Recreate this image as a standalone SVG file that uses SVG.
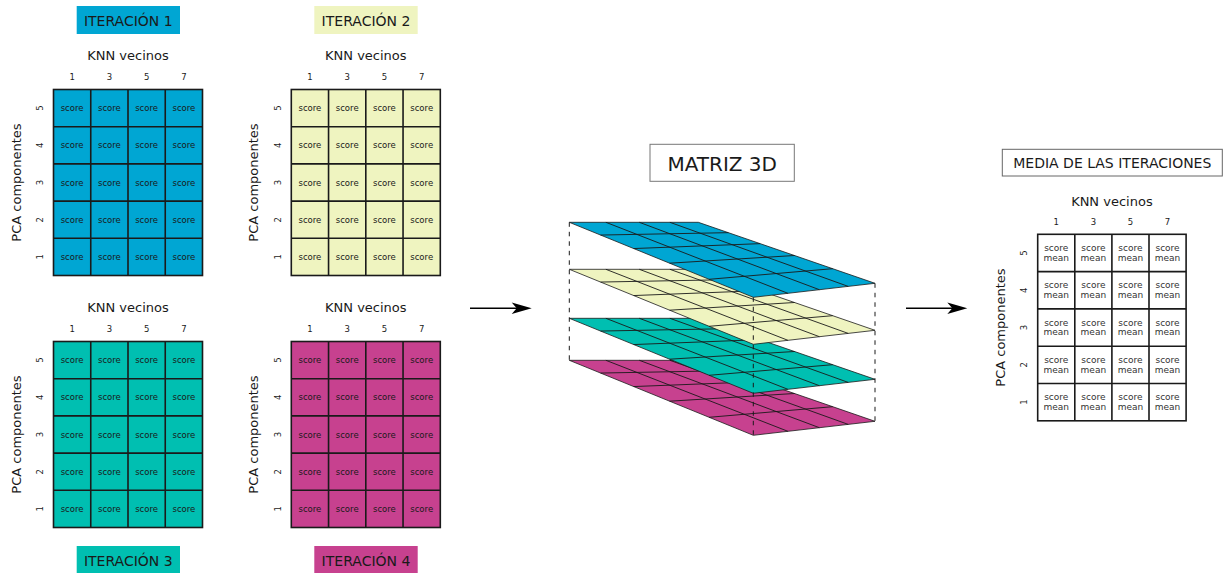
<svg xmlns="http://www.w3.org/2000/svg" width="1229" height="573" viewBox="0 0 1229 573">
<style>
text{font-family:"DejaVu Sans","Liberation Sans",sans-serif;fill:#1a1a1a;text-anchor:middle}
.t14{font-size:14px}
.t13{font-size:13px}
.t20{font-size:20px}
.sm{font-size:8.5px}
.rs{font-size:9px;fill:#333}
.grid{stroke:#1a1a1a;stroke-width:1.6;fill:none}
.gbox{stroke:#1a1a1a;stroke-width:1.6}
.lay{stroke:#1a1a1a;stroke-width:0.8}
.lgrid{stroke:#1a1a1a;stroke-width:0.9;fill:none}
.dash{stroke:#1a1a1a;stroke-width:1;stroke-dasharray:4.5 5;fill:none}
.conn{stroke:#000;stroke-width:1.4;fill:none}
.blue{fill:#00a6d3}
.yel{fill:#eff4c0}
.teal{fill:#00bfb1}
.mag{fill:#c7418f}
</style>
<defs>
<marker id="ah" viewBox="-16 -7 22 14" refX="0" refY="0" markerWidth="22" markerHeight="14" markerUnits="userSpaceOnUse" orient="auto">
<path d="M5,0 L-15,-5.7 L-10,0 L-15,5.7 Z" fill="#000"/>
</marker>
</defs>
<rect width="1229" height="573" fill="#fff"/>

<!-- Iteration 1 -->
<g id="iter1">
<rect class="blue" x="76.7" y="6" width="103.3" height="28"/>
<text class="t14" x="128.3" y="25.5">ITERACIÓN 1</text>
<text class="t13" x="128" y="60">KNN vecinos</text>
<text class="sm" x="72.1" y="80">1</text><text class="sm" x="109.4" y="80">3</text><text class="sm" x="146.6" y="80">5</text><text class="sm" x="183.9" y="80">7</text>
<text class="t13" transform="translate(20.7,182.5) rotate(-90)">PCA componentes</text>
<text class="sm" transform="translate(42.7,108.1) rotate(-90)">5</text>
<text class="sm" transform="translate(42.7,145.3) rotate(-90)">4</text>
<text class="sm" transform="translate(42.7,182.5) rotate(-90)">3</text>
<text class="sm" transform="translate(42.7,219.7) rotate(-90)">2</text>
<text class="sm" transform="translate(42.7,256.9) rotate(-90)">1</text>
<rect class="blue gbox" x="53.5" y="89.5" width="149" height="186"/>
<path class="grid" d="M90.75,89.5V275.5M128,89.5V275.5M165.25,89.5V275.5M53.5,126.7H202.5M53.5,163.9H202.5M53.5,201.1H202.5M53.5,238.3H202.5"/>
<g class="sm">
<text class="sm" x="72.1" y="111.1">score</text><text class="sm" x="109.4" y="111.1">score</text><text class="sm" x="146.6" y="111.1">score</text><text class="sm" x="183.9" y="111.1">score</text>
<text class="sm" x="72.1" y="148.3">score</text><text class="sm" x="109.4" y="148.3">score</text><text class="sm" x="146.6" y="148.3">score</text><text class="sm" x="183.9" y="148.3">score</text>
<text class="sm" x="72.1" y="185.5">score</text><text class="sm" x="109.4" y="185.5">score</text><text class="sm" x="146.6" y="185.5">score</text><text class="sm" x="183.9" y="185.5">score</text>
<text class="sm" x="72.1" y="222.7">score</text><text class="sm" x="109.4" y="222.7">score</text><text class="sm" x="146.6" y="222.7">score</text><text class="sm" x="183.9" y="222.7">score</text>
<text class="sm" x="72.1" y="259.9">score</text><text class="sm" x="109.4" y="259.9">score</text><text class="sm" x="146.6" y="259.9">score</text><text class="sm" x="183.9" y="259.9">score</text>
</g>
</g>

<!-- Iteration 2 -->
<g id="iter2">
<rect class="yel" x="314.3" y="6" width="103.4" height="28"/>
<text class="t14" x="366" y="25.5">ITERACIÓN 2</text>
<text class="t13" x="365.8" y="60">KNN vecinos</text>
<text class="sm" x="309.9" y="80">1</text><text class="sm" x="347.2" y="80">3</text><text class="sm" x="384.4" y="80">5</text><text class="sm" x="421.7" y="80">7</text>
<text class="t13" transform="translate(258.3,182.5) rotate(-90)">PCA componentes</text>
<text class="sm" transform="translate(281,108.1) rotate(-90)">5</text>
<text class="sm" transform="translate(281,145.3) rotate(-90)">4</text>
<text class="sm" transform="translate(281,182.5) rotate(-90)">3</text>
<text class="sm" transform="translate(281,219.7) rotate(-90)">2</text>
<text class="sm" transform="translate(281,256.9) rotate(-90)">1</text>
<rect class="yel gbox" x="291.3" y="89.5" width="149" height="186"/>
<path class="grid" d="M328.55,89.5V275.5M365.8,89.5V275.5M403.05,89.5V275.5M291.3,126.7H440.3M291.3,163.9H440.3M291.3,201.1H440.3M291.3,238.3H440.3"/>
<text class="sm" x="309.9" y="111.1">score</text><text class="sm" x="347.2" y="111.1">score</text><text class="sm" x="384.4" y="111.1">score</text><text class="sm" x="421.7" y="111.1">score</text>
<text class="sm" x="309.9" y="148.3">score</text><text class="sm" x="347.2" y="148.3">score</text><text class="sm" x="384.4" y="148.3">score</text><text class="sm" x="421.7" y="148.3">score</text>
<text class="sm" x="309.9" y="185.5">score</text><text class="sm" x="347.2" y="185.5">score</text><text class="sm" x="384.4" y="185.5">score</text><text class="sm" x="421.7" y="185.5">score</text>
<text class="sm" x="309.9" y="222.7">score</text><text class="sm" x="347.2" y="222.7">score</text><text class="sm" x="384.4" y="222.7">score</text><text class="sm" x="421.7" y="222.7">score</text>
<text class="sm" x="309.9" y="259.9">score</text><text class="sm" x="347.2" y="259.9">score</text><text class="sm" x="384.4" y="259.9">score</text><text class="sm" x="421.7" y="259.9">score</text>
</g>

<!-- Iteration 3 -->
<g id="iter3">
<rect class="teal" x="76.7" y="546" width="103.3" height="28"/>
<text class="t14" x="128.3" y="565.7">ITERACIÓN 3</text>
<text class="t13" x="128" y="312">KNN vecinos</text>
<text class="sm" x="72.1" y="332">1</text><text class="sm" x="109.4" y="332">3</text><text class="sm" x="146.6" y="332">5</text><text class="sm" x="183.9" y="332">7</text>
<text class="t13" transform="translate(20.7,434.5) rotate(-90)">PCA componentes</text>
<text class="sm" transform="translate(42.7,360.1) rotate(-90)">5</text>
<text class="sm" transform="translate(42.7,397.3) rotate(-90)">4</text>
<text class="sm" transform="translate(42.7,434.5) rotate(-90)">3</text>
<text class="sm" transform="translate(42.7,471.7) rotate(-90)">2</text>
<text class="sm" transform="translate(42.7,508.9) rotate(-90)">1</text>
<rect class="teal gbox" x="53.5" y="341.5" width="149" height="186"/>
<path class="grid" d="M90.75,341.5V527.5M128,341.5V527.5M165.25,341.5V527.5M53.5,378.7H202.5M53.5,415.9H202.5M53.5,453.1H202.5M53.5,490.3H202.5"/>
<text class="sm" x="72.1" y="363.1">score</text><text class="sm" x="109.4" y="363.1">score</text><text class="sm" x="146.6" y="363.1">score</text><text class="sm" x="183.9" y="363.1">score</text>
<text class="sm" x="72.1" y="400.3">score</text><text class="sm" x="109.4" y="400.3">score</text><text class="sm" x="146.6" y="400.3">score</text><text class="sm" x="183.9" y="400.3">score</text>
<text class="sm" x="72.1" y="437.5">score</text><text class="sm" x="109.4" y="437.5">score</text><text class="sm" x="146.6" y="437.5">score</text><text class="sm" x="183.9" y="437.5">score</text>
<text class="sm" x="72.1" y="474.7">score</text><text class="sm" x="109.4" y="474.7">score</text><text class="sm" x="146.6" y="474.7">score</text><text class="sm" x="183.9" y="474.7">score</text>
<text class="sm" x="72.1" y="511.9">score</text><text class="sm" x="109.4" y="511.9">score</text><text class="sm" x="146.6" y="511.9">score</text><text class="sm" x="183.9" y="511.9">score</text>
</g>

<!-- Iteration 4 -->
<g id="iter4">
<rect class="mag" x="314.3" y="546" width="103.4" height="28"/>
<text class="t14" x="366" y="565.7">ITERACIÓN 4</text>
<text class="t13" x="365.8" y="312">KNN vecinos</text>
<text class="sm" x="309.9" y="332">1</text><text class="sm" x="347.2" y="332">3</text><text class="sm" x="384.4" y="332">5</text><text class="sm" x="421.7" y="332">7</text>
<text class="t13" transform="translate(258.3,434.5) rotate(-90)">PCA componentes</text>
<text class="sm" transform="translate(281,360.1) rotate(-90)">5</text>
<text class="sm" transform="translate(281,397.3) rotate(-90)">4</text>
<text class="sm" transform="translate(281,434.5) rotate(-90)">3</text>
<text class="sm" transform="translate(281,471.7) rotate(-90)">2</text>
<text class="sm" transform="translate(281,508.9) rotate(-90)">1</text>
<rect class="mag gbox" x="291.3" y="341.5" width="149" height="186"/>
<path class="grid" d="M328.55,341.5V527.5M365.8,341.5V527.5M403.05,341.5V527.5M291.3,378.7H440.3M291.3,415.9H440.3M291.3,453.1H440.3M291.3,490.3H440.3"/>
<text class="sm" x="309.9" y="363.1">score</text><text class="sm" x="347.2" y="363.1">score</text><text class="sm" x="384.4" y="363.1">score</text><text class="sm" x="421.7" y="363.1">score</text>
<text class="sm" x="309.9" y="400.3">score</text><text class="sm" x="347.2" y="400.3">score</text><text class="sm" x="384.4" y="400.3">score</text><text class="sm" x="421.7" y="400.3">score</text>
<text class="sm" x="309.9" y="437.5">score</text><text class="sm" x="347.2" y="437.5">score</text><text class="sm" x="384.4" y="437.5">score</text><text class="sm" x="421.7" y="437.5">score</text>
<text class="sm" x="309.9" y="474.7">score</text><text class="sm" x="347.2" y="474.7">score</text><text class="sm" x="384.4" y="474.7">score</text><text class="sm" x="421.7" y="474.7">score</text>
<text class="sm" x="309.9" y="511.9">score</text><text class="sm" x="347.2" y="511.9">score</text><text class="sm" x="384.4" y="511.9">score</text><text class="sm" x="421.7" y="511.9">score</text>
</g>

<!-- 3D matrix -->
<g id="matriz3d">
<rect x="650" y="144.3" width="144.3" height="37" fill="#fff" stroke="#777" stroke-width="1"/>
<text class="t20" x="722.2" y="170.7">MATRIZ 3D</text>
<g id="layer4" transform="translate(569.3,360.3)">
<polygon class="mag lay" points="0,0 129,0 305.7,61 184,75"/>
<path class="lgrid" d="M36.6,0L218.6,71M70,0L250.1,67.4M100.6,0L278.9,64.1M31.3,12.75L159,10.37M64.4,26.25L190.8,21.35M100.3,40.9L225.3,33.2M139.8,57L263.3,46.4"/>
</g>
<g id="layer3" transform="translate(569.3,318.3)">
<polygon class="teal lay" points="0,0 129,0 305.7,61 184,75"/>
<path class="lgrid" d="M36.6,0L218.6,71M70,0L250.1,67.4M100.6,0L278.9,64.1M31.3,12.75L159,10.37M64.4,26.25L190.8,21.35M100.3,40.9L225.3,33.2M139.8,57L263.3,46.4"/>
</g>
<g id="layer2" transform="translate(569.3,269.3)">
<polygon class="yel lay" points="0,0 129,0 305.7,61 184,75"/>
<path class="lgrid" d="M36.6,0L218.6,71M70,0L250.1,67.4M100.6,0L278.9,64.1M31.3,12.75L159,10.37M64.4,26.25L190.8,21.35M100.3,40.9L225.3,33.2M139.8,57L263.3,46.4"/>
</g>
<g id="layer1" transform="translate(569.3,222.3)">
<polygon class="blue lay" points="0,0 129,0 305.7,61 184,75"/>
<path class="lgrid" d="M36.6,0L218.6,71M70,0L250.1,67.4M100.6,0L278.9,64.1M31.3,12.75L159,10.37M64.4,26.25L190.8,21.35M100.3,40.9L225.3,33.2M139.8,57L263.3,46.4"/>
</g>
<path class="dash" d="M569.3,222.3V360.3M753.3,297.3V435.3M875,283.3V421.3"/>
</g>

<!-- Mean result -->
<g id="media">
<rect x="1002.3" y="149.3" width="220" height="26.7" fill="#fff" stroke="#666" stroke-width="1"/>
<text class="t14" x="1112.3" y="168.3">MEDIA DE LAS ITERACIONES</text>
<text class="t13" x="1111.9" y="205.7">KNN vecinos</text>
<text class="sm" x="1056.25" y="225">1</text><text class="sm" x="1093.35" y="225">3</text><text class="sm" x="1130.45" y="225">5</text><text class="sm" x="1167.55" y="225">7</text>
<text class="t13" transform="translate(1004.5,327.55) rotate(-90)">PCA componentes</text>
<text class="sm" transform="translate(1026.7,252.95) rotate(-90)">5</text>
<text class="sm" transform="translate(1026.7,290.25) rotate(-90)">4</text>
<text class="sm" transform="translate(1026.7,327.55) rotate(-90)">3</text>
<text class="sm" transform="translate(1026.7,364.85) rotate(-90)">2</text>
<text class="sm" transform="translate(1026.7,402.15) rotate(-90)">1</text>
<rect class="gbox" fill="#fff" x="1037.7" y="234.3" width="148.4" height="186.5"/>
<path class="grid" d="M1074.8,234.3V420.8M1111.9,234.3V420.8M1149,234.3V420.8M1037.7,271.6H1186.1M1037.7,308.9H1186.1M1037.7,346.2H1186.1M1037.7,383.5H1186.1"/>
<text class="rs" x="1056.25" y="251"><tspan x="1056.25">score</tspan><tspan x="1056.25" dy="9.8">mean</tspan></text>
<text class="rs" x="1093.35" y="251"><tspan x="1093.35">score</tspan><tspan x="1093.35" dy="9.8">mean</tspan></text>
<text class="rs" x="1130.45" y="251"><tspan x="1130.45">score</tspan><tspan x="1130.45" dy="9.8">mean</tspan></text>
<text class="rs" x="1167.55" y="251"><tspan x="1167.55">score</tspan><tspan x="1167.55" dy="9.8">mean</tspan></text>
<text class="rs" x="1056.25" y="288.3"><tspan x="1056.25">score</tspan><tspan x="1056.25" dy="9.8">mean</tspan></text>
<text class="rs" x="1093.35" y="288.3"><tspan x="1093.35">score</tspan><tspan x="1093.35" dy="9.8">mean</tspan></text>
<text class="rs" x="1130.45" y="288.3"><tspan x="1130.45">score</tspan><tspan x="1130.45" dy="9.8">mean</tspan></text>
<text class="rs" x="1167.55" y="288.3"><tspan x="1167.55">score</tspan><tspan x="1167.55" dy="9.8">mean</tspan></text>
<text class="rs" x="1056.25" y="325.6"><tspan x="1056.25">score</tspan><tspan x="1056.25" dy="9.8">mean</tspan></text>
<text class="rs" x="1093.35" y="325.6"><tspan x="1093.35">score</tspan><tspan x="1093.35" dy="9.8">mean</tspan></text>
<text class="rs" x="1130.45" y="325.6"><tspan x="1130.45">score</tspan><tspan x="1130.45" dy="9.8">mean</tspan></text>
<text class="rs" x="1167.55" y="325.6"><tspan x="1167.55">score</tspan><tspan x="1167.55" dy="9.8">mean</tspan></text>
<text class="rs" x="1056.25" y="362.9"><tspan x="1056.25">score</tspan><tspan x="1056.25" dy="9.8">mean</tspan></text>
<text class="rs" x="1093.35" y="362.9"><tspan x="1093.35">score</tspan><tspan x="1093.35" dy="9.8">mean</tspan></text>
<text class="rs" x="1130.45" y="362.9"><tspan x="1130.45">score</tspan><tspan x="1130.45" dy="9.8">mean</tspan></text>
<text class="rs" x="1167.55" y="362.9"><tspan x="1167.55">score</tspan><tspan x="1167.55" dy="9.8">mean</tspan></text>
<text class="rs" x="1056.25" y="400.2"><tspan x="1056.25">score</tspan><tspan x="1056.25" dy="9.8">mean</tspan></text>
<text class="rs" x="1093.35" y="400.2"><tspan x="1093.35">score</tspan><tspan x="1093.35" dy="9.8">mean</tspan></text>
<text class="rs" x="1130.45" y="400.2"><tspan x="1130.45">score</tspan><tspan x="1130.45" dy="9.8">mean</tspan></text>
<text class="rs" x="1167.55" y="400.2"><tspan x="1167.55">score</tspan><tspan x="1167.55" dy="9.8">mean</tspan></text>
</g>

<g id="connectors">
<line class="conn" x1="470" y1="308.3" x2="526.7" y2="308.3" marker-end="url(#ah)"/>
<line class="conn" x1="906" y1="308.3" x2="962.3" y2="308.3" marker-end="url(#ah)"/>
</g>
</svg>
